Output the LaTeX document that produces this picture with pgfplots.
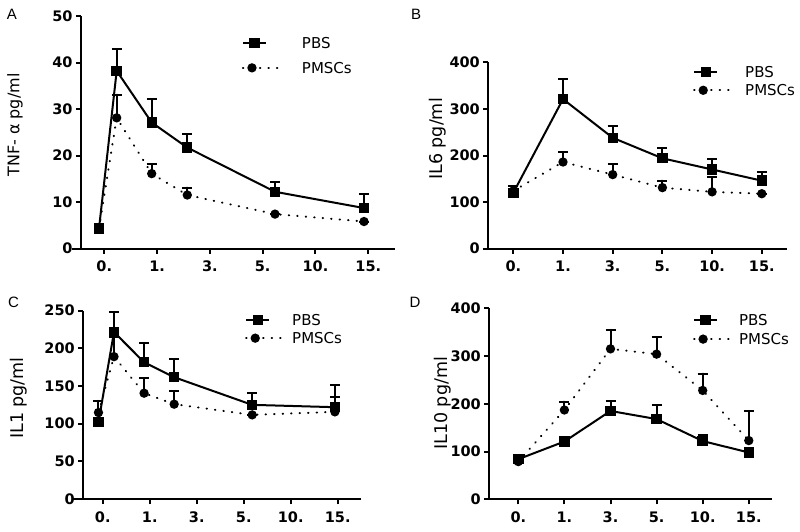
\documentclass[border=0pt]{standalone}
\usepackage{pgfplots}
\usepackage{pgfplotstable}
\pgfplotsset{compat=1.18}
\usepackage{fontspec}
\setmainfont{DejaVu Sans}
\newfontfamily\arialfont{Liberation Sans}

\pgfplotstableread{
x y e
-0.10 4.3 0
0.235 38.2 4.8
0.898 27.1 5.0
1.572 21.7 3.0
3.233 12.2 2.0
4.919 8.7 3.1
}\Apbs
\pgfplotstableread{
x y e
-0.10 4.3 0
0.235 28.1 5.0
0.898 16.1 2.0
1.572 11.5 1.6
3.233 7.4 0
4.919 5.8 0
}\Apmsc
\pgfplotstableread{
x y e
0 120 15
1 321 43
2 238 26
3 194 23
4 170 23
5 146 19
}\Bpbs
\pgfplotstableread{
x y e
0 124 0
1 186 22
2 159 22
3 131 15
4 122 31
5 118 0
}\Bpmsc
\pgfplotstableread{
x y e
-0.09 102 0
0.24 221.7 26
0.88 181.5 25
1.52 161.7 24
3.18 125 16
4.94 121.9 29.6
}\Cpbs
\pgfplotstableread{
x y e
-0.09 114.8 15.5
0.24 189 26
0.88 140.5 20
1.52 125.9 17
3.18 111.7 0
4.94 115.7 20
}\Cpmsc
\pgfplotstableread{
x y e
0 84 5
1 121 10
2 185 20
3 168 29
4 122 13
5 98 0
}\Dpbs
\pgfplotstableread{
x y e
0 79 0
1 187 17.5
2 315 40
3 304 35
4 228 35
5 123 62
}\Dpmsc

\pgfplotsset{
 panel/.style={
  scale only axis,
  axis x line=bottom, axis y line=left,
  axis line style={-, line width=2pt},
  tick align=outside,
  major tick length=5pt,
  tick style={line width=2pt, black},
  xtick={0,...,5},
  xticklabels={0.,1.,3.,5.,10.,15.},
  ticklabel style={font=\fontsize{14.5}{17}\selectfont\bfseries},
  xticklabel style={yshift=-4pt},
  /pgf/number format/assume math mode=true,
  label style={font=\fontsize{17.5}{20}\selectfont},
  clip=false,
  ymin=0,
  legend cell align=left,
  reverse legend,
  legend style={draw=none, fill=none, inner sep=0pt, anchor=north west,
    nodes={font=\fontsize{15}{18}\selectfont, inner sep=0pt, text height=11pt, text depth=0pt}},
 },
 pbs/.style={black, line width=2pt, mark=square*, mark size=4.2pt, mark options={solid},
   legend image code/.code={\draw[##1, mark=none] (0pt,0pt) -- (23pt,0pt); \draw[##1, only marks] plot coordinates {(11.5pt,0pt)};}},
 pmsc/.style={black, line width=2pt, line cap=round, dash pattern=on 0.5pt off 8pt, mark=*, mark size=3.6pt, mark options={solid},
   legend image code/.code={\draw[##1, mark=none] (0pt,0pt) -- (36pt,0pt); \draw[##1, only marks] plot coordinates {(9pt,0pt)};}},
 ebars/.style={error bars/.cd, y dir=plus, y explicit, error bar style={line width=2pt, solid}, error mark options={rotate=90, mark size=5pt, line width=2pt}},
}

\begin{document}
\begin{tikzpicture}
\path[use as bounding box] (0pt,0pt) rectangle (800pt,531pt);
\node[font=\arialfont\fontsize{15}{17}\selectfont] at (12pt,516.5pt) {A};
\node[font=\arialfont\fontsize{15}{17}\selectfont] at (416pt,517pt) {B};
\node[font=\arialfont\fontsize{15}{17}\selectfont] at (13.5pt,229pt) {C};
\node[font=\arialfont\fontsize{15}{17}\selectfont] at (415pt,229pt) {D};

% Panel A
\begin{axis}[panel, at={(81pt,282.5pt)}, anchor=south west, width=314pt, height=232.5pt,
  xmin=-0.441, xmax=5.506, ymax=50, ytick={0,10,...,50},
  x axis line style={shorten <=-9.3pt},
  ylabel={TNF- α pg/ml}, ylabel style={font=\fontsize{16}{19}\selectfont, at={(axis description cs:-0.210,0.531)}, anchor=center},
  legend style={at={(axis description cs:0.512,0.909)}, row sep=14pt, column sep=22pt}]
\addplot[pmsc, ebars] table[x=x, y=y, y error=e] {\Apmsc};
\addlegendentry{PMSCs}
\addplot[pbs, ebars] table[x=x, y=y, y error=e] {\Apbs};
\addlegendentry{PBS}
\end{axis}

% Panel B
\begin{axis}[panel, at={(488.3pt,282.3pt)}, anchor=south west, width=298.4pt, height=186.4pt,
  xmin=-0.503, xmax=5.501, ymax=400, ytick={0,100,...,400},
  x axis line style={shorten <=-5.6pt},
  ylabel={IL6 pg/ml}, ylabel style={at={(axis description cs:-0.170,0.589)}, anchor=center},
  legend style={at={(axis description cs:0.686,0.977)}, row sep=7pt, column sep=14pt}]
\addplot[pmsc, ebars] table[x=x, y=y, y error=e] {\Bpmsc};
\addlegendentry{PMSCs}
\addplot[pbs, ebars] table[x=x, y=y, y error=e] {\Bpbs};
\addlegendentry{PBS}
\end{axis}

% Panel C
\begin{axis}[panel, at={(83.3pt,32pt)}, anchor=south west, width=277.4pt, height=188.3pt,
  xmin=-0.413, xmax=5.489, ymax=250, ytick={0,50,...,250},
  x axis line style={shorten <=-10pt},
  ylabel={IL1 pg/ml}, ylabel style={at={(axis description cs:-0.232,0.536)}, anchor=center},
  legend style={at={(axis description cs:0.583,0.980)}, row sep=7pt, column sep=9pt}]
\addplot[pmsc, ebars] table[x=x, y=y, y error=e] {\Cpmsc};
\addlegendentry{PMSCs}
\addplot[pbs, ebars] table[x=x, y=y, y error=e] {\Cpbs};
\addlegendentry{PBS}
\end{axis}

% Panel D
\begin{axis}[panel, at={(489.3pt,31.7pt)}, anchor=south west, width=282.4pt, height=191pt,
  xmin=-0.629, xmax=5.497, ymax=400, ytick={0,100,...,400},
  ylabel={IL10 pg/ml}, ylabel style={at={(axis description cs:-0.166,0.502)}, anchor=center},
  legend style={at={(axis description cs:0.721,0.968)}, row sep=8pt, column sep=8pt}]
\addplot[pmsc, ebars] table[x=x, y=y, y error=e] {\Dpmsc};
\addlegendentry{PMSCs}
\addplot[pbs, ebars] table[x=x, y=y, y error=e] {\Dpbs};
\addlegendentry{PBS}
\end{axis}
\end{tikzpicture}
\end{document}
